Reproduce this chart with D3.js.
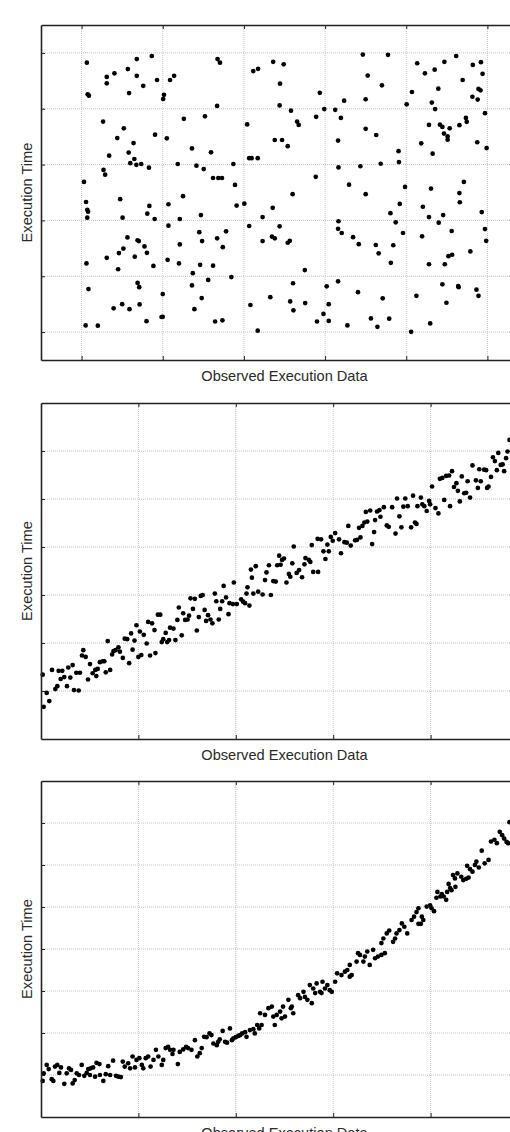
<!DOCTYPE html>
<html>
<head>
<meta charset="utf-8">
<script src="https://cdn.jsdelivr.net/npm/d3@7"></script>
<style>
  body { margin: 0; background: #fff; }
  svg { display: block; }
  text { font-family: "Liberation Sans", Arial, Helvetica, sans-serif; fill: #2a2a2a; }
</style>
</head>
<body>
<svg id="chart" width="510" height="1132"></svg>
<script>
// ---- panel 1: uniform scatter ----
var uniformX = [1.3,1.5,1.8,6.2,6.2,8.1,11.4,13.6,13.6,11.7,15.2,17.3,18.6,20.3,20.1,21.8,22.8,33.5,34.1,33.4,
  25.2,30.4,5.3,10.4,8.8,18.1,21.0,12.8,6.8,11.6,13.0,12.0,13.5,14.7,16.6,5.4,5.8,0.6,23.7,27.2,
  28.3,30.1,31.9,32.4,33.7,34.6,37.4,37.8,40.8,41.3,41.9,43.4,42.3,43.5,25.0,9.5,47.2,49.8,48.9,58.7,
  48.8,51.6,57.8,59.8,62.5,63.9,64.7,53.1,53.5,47.6,49.4,50.8,69.3,75.5,70.5,74.0,70.0,70.0,72.6,63.2,
  63.3,68.7,73.7,78.1,78.2,57.7,65.9,70.0,52.0,79.7,86.1,93.1,94.2,80.1,81.4,82.7,84.6,87.0,89.4,92.3,
  96.4,98.4,98.8,93.9,87.9,86.3,87.1,97.8,98.3,96.3,97.6,99.4,85.6,88.3,88.9,90.7,89.3,90.2,90.2,93.1,
  94.7,94.9,83.7,86.5,97.5,99.8,1.1,1.4,1.6,1.4,10.1,16.7,16.2,18.0,21.4,24.2,29.4,38.2,40.1,41.3,
  21.4,29.0,29.7,33.4,35.6,34.8,24.2,11.3,13.8,14.1,10.3,9.2,15.5,16.1,13.1,6.2,1.2,21.2,24.0,17.7,
  29.2,32.4,9.0,27.4,31.2,36.9,13.8,14.2,1.7,20.0,27.2,29.6,7.9,10.0,11.8,14.3,27.8,16.0,19.7,20.0,
  32.9,34.7,1.0,4.0,41.6,43.4,47.1,44.6,48.8,44.6,46.9,47.6,50.8,51.3,55.0,63.3,63.2,64.1,66.9,68.3,
  72.5,73.2,76.8,76.2,76.1,78.4,77.4,79.2,84.1,85.6,89.1,88.0,93.2,98.6,99.4,99.7,91.2,83.9,95.8,90.4,
  91.3,85.6,89.5,46.5,52.1,51.4,52.2,55.1,60.4,60.9,63.2,68.1,74.2,59.6,58.0,60.9,65.5,71.3,72.9,75.8,
  81.2,82.5,85.9,88.9,89.9,92.8,92.9,97.3,97.8];
var uniformY = [96.5,85.2,84.7,91.4,89.1,92.7,94.2,97.8,91.8,85.6,88.2,98.9,90.3,85.0,83.5,90.3,91.8,97.8,96.5,81.0,
  76.4,77.3,75.4,73.0,69.5,70.7,69.4,67.7,63.2,64.3,62.0,60.5,59.9,60.2,58.9,58.1,56.4,53.8,60.2,65.8,
  59.6,58.4,64.4,55.2,55.2,55.2,60.2,52.7,74.4,62.3,62.3,62.3,93.5,94.3,48.7,47.6,96.8,95.9,89.0,85.7,
  81.2,79.3,77.1,79.9,79.6,76.7,82.9,75.4,74.2,68.8,68.8,66.6,99.4,99.3,91.9,88.4,83.4,72.8,70.6,68.6,
  59.0,59.4,60.3,64.8,60.9,55.6,52.8,49.4,49.4,52.0,51.4,49.8,53.8,81.6,86.0,96.3,92.7,94.0,96.8,98.9,
  95.7,96.7,92.5,90.3,87.2,82.2,79.9,87.1,86.6,84.3,83.3,78.4,74.2,74.3,73.5,73.0,71.1,70.1,68.9,74.1,
  76.7,75.3,67.6,63.9,68.0,65.9,46.6,43.8,43.1,41.0,41.0,45.2,42.4,40.5,45.8,40.5,41.9,45.3,46.0,38.0,
  38.1,35.8,32.6,33.6,36.1,30.4,31.4,33.9,32.9,32.6,29.9,28.3,30.7,28.4,27.0,26.6,24.6,25.9,24.6,23.7,
  24.1,23.8,22.5,21.1,18.7,19.7,17.6,16.1,15.4,13.6,16.7,12.2,8.5,10.0,8.2,9.9,8.2,3.9,5.4,5.5,
  3.8,4.2,2.4,2.3,9.7,0.5,44.5,41.2,37.9,32.6,34.2,33.6,32.0,32.7,22.2,39.7,37.0,35.5,34.0,31.5,
  31.2,28.2,31.1,24.8,42.6,45.9,39.3,35.5,44.9,41.2,41.9,39.2,46.5,43.0,36.9,32.7,36.2,34.3,28.9,27.2,
  27.7,24.3,24.3,12.5,17.5,11.0,7.8,10.4,16.4,10.0,18.2,14.3,12.1,6.5,3.8,4.0,2.4,4.9,1.9,4.8,
  0.1,13.0,3.1,17.1,10.5,16.5,16.1,15.2,13.0];

// ---- panel 2: linear trend ----
var linearX = [0.35,0.55,1.17,1.7,2.26,2.94,3.35,3.63,4.04,4.37,4.78,5.34,5.6,6.02,6.5,6.77,7.74,7.25,8.0,8.42,
  8.68,9.18,9.65,10.06,10.6,11.15,11.35,11.64,12.1,12.67,13.0,13.3,13.7,14.2,14.6,14.9,15.3,15.9,16.2,16.8,
  17.2,17.7,18.1,18.5,18.8,19.2,19.6,20.0,20.3,20.6,21.1,21.7,22.0,22.4,22.8,23.3,23.5,24.0,24.5,24.8,
  25.1,25.6,25.9,26.3,26.5,27.2,27.6,28.0,28.3,28.9,29.2,29.6,30.1,30.4,30.7,31.2,31.6,32.0,32.4,32.8,
  33.2,33.6,33.9,34.3,34.8,35.2,35.7,36.0,36.5,36.8,37.2,37.5,38.0,38.5,38.7,39.4,39.6,40.2,41.1,41.5,
  41.9,42.4,42.8,42.2,43.1,43.3,43.6,44.1,44.6,45.5,46.0,46.3,46.8,47.2,47.7,48.2,48.5,49.2,50.4,50.9,
  51.2,51.6,52.5,53.0,53.6,54.1,55.9,56.9,48.9,49.5,49.9,51.9,54.3,55.0,55.3,55.6,56.8,57.5,58.0,59.1,
  58.4,58.8,59.5,59.9,60.4,61.2,61.6,62.3,62.8,63.1,63.6,64.5,64.9,65.6,65.3,66.0,66.4,67.0,66.7,67.6,
  68.0,68.4,68.6,69.0,69.5,69.7,70.4,71.0,71.4,72.1,72.8,73.1,73.6,74.0,74.4,74.8,75.3,76.0,76.4,76.8,
  77.1,77.3,78.0,78.3,78.7,79.2,79.7,79.9,80.3,81.0,81.6,81.9,82.4,82.8,83.2,83.8,84.0,84.4,84.8,85.3,
  85.6,86.0,86.4,86.9,87.3,87.6,88.1,88.6,89.3,89.7,90.0,90.3,91.0,91.4,91.6,91.9,92.4,92.8,93.2,93.6,
  93.9,94.4,94.8,95.1,95.5,95.8,96.2];
var linearY = [13.4,6.7,9.6,7.9,14.4,10.4,11.0,14.2,12.5,14.2,12.9,11.0,14.9,12.8,15.4,10.2,10.1,13.8,13.8,17.4,
  18.5,17.1,12.4,15.6,13.7,14.4,13.1,14.6,16.0,16.2,16.2,13.9,20.4,14.4,17.6,18.3,18.5,19.1,18.2,16.9,
  20.9,20.8,15.8,22.0,18.6,20.5,23.7,17.1,22.4,17.5,21.7,19.9,24.4,17.4,24.1,22.7,17.9,25.9,25.9,20.2,
  20.8,22.1,20.2,20.6,23.2,23.0,20.6,24.8,27.4,21.6,26.2,24.8,24.9,25.7,29.3,27.1,29.2,22.6,25.4,29.8,
  30.0,26.9,24.6,25.8,24.9,24.1,30.3,28.7,24.9,27.1,28.7,31.9,29.5,26.0,28.3,28.1,32.6,28.1,29.1,28.6,
  28.3,31.6,27.8,30.3,35.3,33.6,30.3,36.0,30.7,30.1,33.1,34.7,36.2,30.0,32.9,32.8,36.2,36.3,32.6,34.4,
  33.8,36.6,34.6,35.2,33.7,36.4,34.8,34.8,38.2,37.3,37.6,40.1,37.7,37.3,36.9,40.4,41.7,41.6,39.1,39.1,
  37.5,40.5,42.1,41.3,42.9,41.6,38.7,41.0,40.9,44.4,40.3,41.4,41.5,42.0,44.0,44.4,45.1,45.3,47.3,47.6,
  40.6,43.1,45.6,47.4,47.7,46.3,48.3,44.5,44.2,48.3,42.8,50.1,46.4,44.1,48.4,50.1,48.5,44.1,50.7,45.1,
  44.8,48.5,50.3,48.9,48.5,47.5,49.6,48.9,52.6,48.1,47.0,54.2,54.4,49.8,54.8,54.9,48.5,55.8,52.5,53.3,
  51.7,49.5,54.7,51.2,51.3,53.7,50.3,57.0,53.9,52.3,56.2,53.7,56.1,56.0,52.3,52.6,54.6,58.7,57.9,56.0,
  59.6,57.1,57.2,55.8,58.5,59.9,62.3];

// ---- panel 3: accelerating trend ----
var expX = [0.35,0.55,1.17,1.58,2.2,2.53,2.87,3.35,3.76,4.1,4.78,5.28,5.75,6.16,6.5,6.92,7.33,7.8,8.36,8.89,
  9.38,9.71,10.2,10.7,11.4,12.0,10.06,11.1,12.1,12.8,13.3,13.8,14.2,14.8,15.4,15.9,16.4,16.8,17.2,17.9,
  18.3,18.8,19.3,19.6,20.2,20.7,21.0,21.5,22.0,22.5,23.1,23.6,24.1,24.8,25.1,25.6,26.1,26.5,27.0,27.2,
  28.1,28.5,29.2,29.8,30.2,30.9,31.6,32.1,32.6,33.0,33.5,34.0,34.6,35.0,35.4,36.1,36.4,36.7,37.3,37.8,
  38.2,38.8,39.2,39.5,40.0,40.5,40.9,41.3,41.9,42.2,42.9,43.6,43.9,44.4,44.8,45.0,45.3,46.0,46.7,47.4,
  47.7,48.4,48.0,49.1,49.4,50.1,49.7,50.8,51.3,51.8,51.5,52.8,53.2,53.9,54.2,54.7,55.6,55.2,55.9,56.3,
  56.6,57.3,57.6,57.8,58.3,58.8,59.3,59.7,60.4,60.8,61.7,62.4,62.9,63.4,63.8,63.4,64.8,65.5,66.5,67.0,
  67.5,68.6,69.2,69.9,70.6,66.2,68.2,65.1,69.9,70.3,71.0,71.5,72.3,72.7,73.0,73.6,75.2,74.6,74.1,78.0,
  77.5,76.1,76.6,78.5,78.2,77.1,77.5,80.7,80.2,79.9,79.2,83.2,82.7,81.2,82.3,82.0,81.4,85.1,84.3,83.4,
  84.0,83.7,87.8,87.3,86.7,86.3,85.0,85.5,84.6,91.9,91.1,88.6,88.1,87.5,89.1,89.9,89.4,90.5,93.6,93.1,
  92.4,95.9,95.6,95.1,94.7,94.2,96.2];
var expY = [8.6,10.4,12.4,11.4,9.0,8.6,12.0,12.4,10.5,11.8,7.9,10.4,11.6,11.2,8.0,8.8,10.4,10.0,12.4,9.8,
  10.5,11.4,11.6,11.8,12.9,12.6,10.0,9.6,10.0,8.6,10.2,12.1,10.0,13.4,9.8,9.6,9.5,13.2,12.0,12.8,
  11.6,14.4,11.8,13.6,14.0,12.4,11.6,14.0,14.4,12.0,13.6,16.0,14.4,12.4,13.6,16.4,16.7,16.0,15.0,16.0,
  12.6,15.5,16.1,16.7,16.4,16.0,18.3,14.4,15.2,16.4,19.1,19.0,19.9,19.5,17.5,17.1,17.9,18.5,20.5,17.9,
  17.7,21.1,18.3,18.7,19.0,19.3,19.5,19.9,20.2,19.1,20.7,20.9,19.9,21.9,21.1,24.7,21.9,24.3,25.9,26.3,
  23.9,24.3,21.9,25.1,23.5,23.9,26.3,27.9,25.9,24.7,26.3,29.0,28.3,29.8,28.6,27.9,27.1,31.4,30.6,29.5,
  31.8,29.8,29.5,32.2,30.6,31.4,30.2,29.8,32.2,34.2,33.8,34.6,35.0,33.4,33.8,36.2,37.0,38.6,38.2,39.4,
  36.2,37.8,38.2,38.6,39.0,37.0,39.8,39.0,41.4,42.5,43.7,44.4,41.7,42.5,43.7,44.5,43.7,45.3,46.1,46.0,
  46.0,46.9,47.7,46.9,47.7,48.8,49.7,49.0,49.7,50.4,50.1,51.7,52.5,52.2,53.1,52.5,53.6,54.8,54.0,53.6,
  54.5,55.5,57.0,56.7,56.4,57.2,56.8,58.0,57.6,61.2,60.4,58.4,59.0,59.8,60.0,59.4,60.8,63.4,65.2,66.0,
  65.6,65.2,65.5,66.3,67.1,67.9,70.2];

// axis ranges and tick values
var uniformXTicks = [0, 20, 40, 60, 80, 100];
var uniformYTicks = [0, 20, 40, 60, 80, 100];
var trendXTicks = [20, 40, 60, 80];
var linearYTicks = [10, 20, 30, 40, 50, 60];
var expYTicks = [10, 20, 30, 40, 50, 60, 70];

var xLabel = "Observed Execution Data";
var yLabel = "Execution Time";

var svg = d3.select("#chart");
var left = 41, right = 528;

var panels = [
  { xs: uniformX, ys: uniformY, xDomain: [-10, 110], yDomain: [-10, 110], xTicks: uniformXTicks, yTicks: uniformYTicks, top: 25, bottom: 360 },
  { xs: linearX, ys: linearY, xDomain: [0, 100], yDomain: [0, 70], xTicks: trendXTicks, yTicks: linearYTicks, top: 403, bottom: 739 },
  { xs: expX, ys: expY, xDomain: [0, 100], yDomain: [0, 80], xTicks: trendXTicks, yTicks: expYTicks, top: 781, bottom: 1117 }
];

panels.forEach(function(p) {
  var x = d3.scaleLinear().domain(p.xDomain).range([left, right]);
  var y = d3.scaleLinear().domain(p.yDomain).range([p.bottom, p.top]);
  var g = svg.append("g");

  // dotted grid
  var grid = g.append("g")
    .attr("stroke", "#c4c4c4")
    .attr("stroke-width", 1)
    .attr("stroke-dasharray", "1,1");
  grid.selectAll(".vline").data(p.xTicks).enter().append("line")
    .attr("x1", function(d) { return x(d); })
    .attr("x2", function(d) { return x(d); })
    .attr("y1", p.top)
    .attr("y2", p.bottom);
  grid.selectAll(".hline").data(p.yTicks).enter().append("line")
    .attr("x1", left)
    .attr("x2", right)
    .attr("y1", function(d) { return y(d); })
    .attr("y2", function(d) { return y(d); });

  // points
  g.append("g")
    .selectAll("circle")
    .data(p.xs)
    .enter().append("circle")
    .attr("cx", function(d) { return x(d); })
    .attr("cy", function(d, i) { return y(p.ys[i]); })
    .attr("r", 2.35)
    .attr("fill", "#000");

  // frame with inward ticks, no labels
  var axes = [
    g.append("g").attr("transform", "translate(" + left + ",0)")
      .call(d3.axisLeft(y).tickValues(p.yTicks).tickSizeInner(-4).tickSizeOuter(0).tickFormat("")),
    g.append("g").attr("transform", "translate(0," + p.top + ")")
      .call(d3.axisTop(x).tickValues(p.xTicks).tickSizeInner(-4).tickSizeOuter(0).tickFormat("")),
    g.append("g").attr("transform", "translate(0," + p.bottom + ")")
      .call(d3.axisBottom(x).tickValues(p.xTicks).tickSizeInner(-4).tickSizeOuter(0).tickFormat(""))
  ];
  axes.forEach(function(a) {
    a.select(".domain").attr("stroke", "#222").attr("stroke-width", 1.6);
    a.selectAll(".tick line").attr("stroke", "#222").attr("stroke-width", 1);
  });

  g.append("text")
    .attr("x", (left + right) / 2)
    .attr("y", p.bottom + 20.5)
    .attr("text-anchor", "middle")
    .style("font-size", "14.6px")
    .text(xLabel);

  g.append("text")
    .attr("transform", "translate(31.5," + (p.top + p.bottom) / 2 + ") rotate(-90)")
    .attr("text-anchor", "middle")
    .style("font-size", "14.6px")
    .text(yLabel);
});
</script>
</body>
</html>
